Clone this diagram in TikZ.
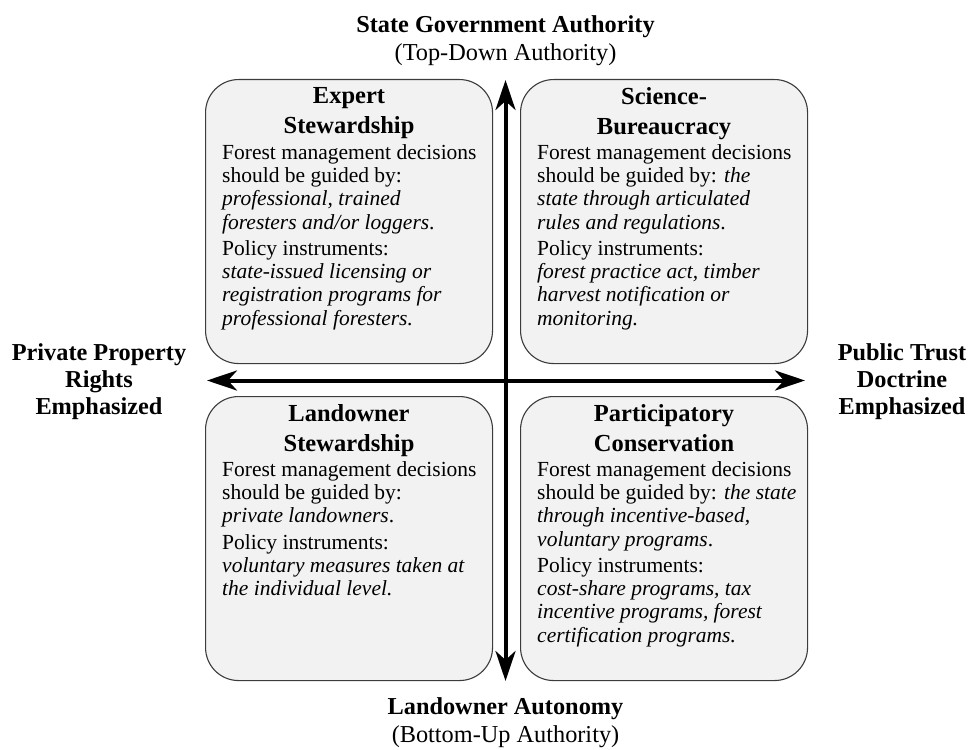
\documentclass[tikz,border=0pt]{standalone}
\usepackage{fontspec}
\setmainfont{Liberation Serif}
\usetikzlibrary{arrows.meta}
\definecolor{quadfill}{HTML}{F2F2F2}
\definecolor{quadline}{HTML}{3C3C3C}
\begin{document}
\begin{tikzpicture}[x=1pt,y=-1pt,
  quad/.style={draw=quadline, line width=1.1pt, fill=quadfill, rounded corners=33pt,
    minimum width=287pt, minimum height=284pt, anchor=north west, inner sep=0pt},
  qtitle/.style={anchor=north, align=center, inner sep=0pt,
    font=\fontsize{24.5}{30}\selectfont\bfseries},
  qbody/.style={anchor=north west, align=left, inner sep=0pt,
    font=\fontsize{21.5}{23.3}\selectfont},
  axislabel/.style={anchor=north, align=center, inner sep=0pt,
    font=\fontsize{24.3}{28.5}\selectfont},
  sidelabel/.style={axislabel, font=\fontsize{24.3}{27}\selectfont\bfseries},
  axis/.style={line width=4pt,
    {Stealth[length=30pt,width=20pt,inset=9pt]}-{Stealth[length=30pt,width=20pt,inset=9pt]}}
]
\useasboundingbox (0,0) rectangle (968,749);

% the four quadrants
\node[quad] (tl) at (205,79) {};
\node[quad] (tr) at (520,79) {};
\node[quad] (bl) at (205,396) {};
\node[quad] (br) at (520,396) {};

% axes
\coordinate (vtop) at (505.5,80);
\coordinate (vbot) at (505.5,681);
\coordinate (hleft) at (207,380.5);
\coordinate (hright) at (805,380.5);
\draw[axis] (vbot) -- (vtop);
\draw[axis] (hleft) -- (hright);

% axis labels
\node[axislabel] (north) at (505.5,15) {\bfseries State Government Authority\\(Top-Down Authority)};
\node[axislabel] (south) at (505.5,697) {\bfseries Landowner Autonomy\\(Bottom-Up Authority)};
\node[sidelabel] (west) at (99,343) {Private Property\\Rights\\Emphasized};
\node[sidelabel] (east) at (902,343) {Public Trust\\Doctrine\\Emphasized};

% top left
\node[qtitle] (tlt) at ([yshift=-8pt]tl.north) {Expert\\Stewardship};
\node[qbody] (tlb) at ([xshift=17pt,yshift=-65pt]tl.north west)
  {Forest management decisions\\
   should be guided by:\\
   \textit{professional, trained}\\
   \textit{foresters and/or loggers}.\\[3pt]
   Policy instruments:\\
   \textit{state-issued licensing or}\\
   \textit{registration programs for}\\
   \textit{professional foresters.}};

% top right
\node[qtitle] (trt) at ([yshift=-8pt]tr.north) {Science-\\Bureaucracy};
\node[qbody] (trb) at ([xshift=17pt,yshift=-65pt]tr.north west)
  {Forest management decisions\\
   should be guided by: \textit{the}\\
   \textit{state through articulated}\\
   \textit{rules and regulations}.\\[3pt]
   Policy instruments:\\
   \textit{forest practice act, timber}\\
   \textit{harvest notification or}\\
   \textit{monitoring.}};

% bottom left
\node[qtitle] (blt) at ([yshift=-8pt]bl.north) {Landowner\\Stewardship};
\node[qbody] (blb) at ([xshift=17pt,yshift=-65pt]bl.north west)
  {Forest management decisions\\
   should be guided by:\\
   \textit{private landowners}.\\[3pt]
   Policy instruments:\\
   \textit{voluntary measures taken at}\\
   \textit{the individual level.}};

% bottom right
\node[qtitle] (brt) at ([yshift=-8pt]br.north) {Participatory\\Conservation};
\node[qbody] (brb) at ([xshift=17pt,yshift=-65pt]br.north west)
  {Forest management decisions\\
   should be guided by: \textit{the state}\\
   \textit{through incentive-based,}\\
   \textit{voluntary programs}.\\[3pt]
   Policy instruments:\\
   \textit{cost-share programs, tax}\\
   \textit{incentive programs, forest}\\
   \textit{certification programs.}};
\end{tikzpicture}
\end{document}
